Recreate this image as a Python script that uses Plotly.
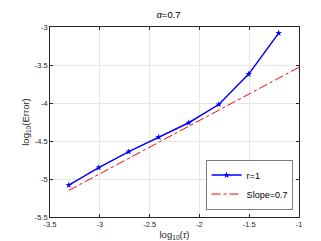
import plotly.graph_objects as go

log_tau = [-3.311, -3.010, -2.709, -2.408, -2.107, -1.806, -1.505, -1.204]
log_err = [-5.08, -4.85, -4.64, -4.45, -4.26, -4.02, -3.62, -3.08]
slope_x = [-3.311, -1.0]
slope_y = [-5.15, -3.53]
x_ticks = [-3.5, -3, -2.5, -2, -1.5, -1]
y_ticks = [-5.5, -5, -4.5, -4, -3.5, -3]

fig = go.Figure()
fig.add_trace(go.Scatter(x=log_tau, y=log_err, mode="lines+markers", name="r=1",
                         line=dict(color="#0000ff", width=1.5),
                         marker=dict(symbol="star", size=5, color="#0000ff")))
fig.add_trace(go.Scatter(x=slope_x, y=slope_y, mode="lines", name="Slope=0.7",
                         line=dict(color="#ff0000", width=1, dash="dashdot")))

axis_common = dict(showgrid=True, gridcolor="#e6e6e6", gridwidth=1,
                   showline=True, linecolor="#262626", linewidth=0.6, mirror="ticks",
                   ticks="inside", ticklen=3, tickcolor="#262626", zeroline=False,
                   tickfont=dict(size=7.5, color="#262626", family="Liberation Sans"))
fig.update_xaxes(range=[-3.5, -1], tickvals=x_ticks, ticktext=[str(v) for v in x_ticks],
                 title=dict(text="log<sub>10</sub>(<i>τ</i>)", font=dict(size=9.5, color="#262626"), standoff=3),
                 **axis_common)
fig.update_yaxes(range=[-5.5, -3], tickvals=y_ticks, ticktext=[str(v) for v in y_ticks],
                 title=dict(text="log<sub>10</sub>(Error)", font=dict(size=9.5, color="#262626"), standoff=3),
                 **axis_common)
fig.update_layout(
    width=321, height=241,
    margin=dict(l=42, r=30, t=19, b=32),
    paper_bgcolor="white", plot_bgcolor="white",
    font=dict(family="Liberation Sans", color="#262626"),
    title=dict(text="<i>α</i>=0.7", x=0.5, xanchor="center", y=0.985, yanchor="top",
               font=dict(size=9.5, color="black")),
    legend=dict(x=0.976, y=0.037, xanchor="right", yanchor="bottom",
                bgcolor="white", bordercolor="#262626", borderwidth=0.6,
                font=dict(size=9, color="black"), tracegroupgap=0,
                itemwidth=30, entrywidthmode="pixels"),
    showlegend=True,
)
fig.write_html("out.html")
